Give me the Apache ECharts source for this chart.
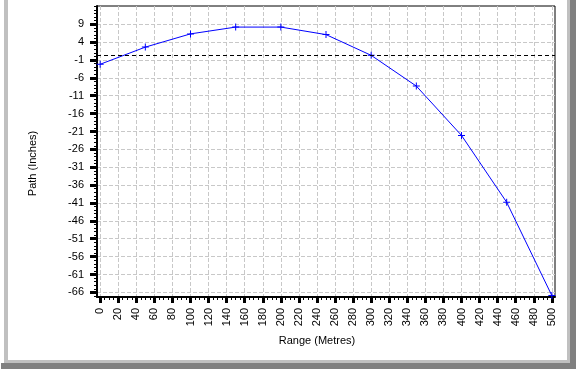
<!DOCTYPE html>
<html>
  <head>
    <meta charset="UTF-8" />
    <title>Path chart</title>
    <script src="https://cdn.jsdelivr.net/npm/echarts@6.0.0/dist/echarts.min.js"></script>
    <style>
      html, body { margin: 0; padding: 0; background: #fff; }
    </style>
  </head>
  <body>
    <div id="pathChart" style="width: 576px; height: 369px"></div>
  </body>
  <script>
    // ranges (metres) and path (inches)
    let ranges = [0, 50, 100, 150, 200, 250, 300, 350, 400, 450, 500];
    let pathValues = [-2.2, 2.6, 6.3, 8.2, 8.2, 6.1, 0.3, -8.3, -22.1, -40.8, -66.9];
    let sightLine = 0.4;

    let xTickLabels = [0, 20, 40, 60, 80, 100, 120, 140, 160, 180, 200, 220, 240, 260, 280, 300, 320, 340, 360, 380, 400, 420, 440, 460, 480, 500];
    let yTickLabels = [9, 4, -1, -6, -11, -16, -21, -26, -31, -36, -41, -46, -51, -56, -61, -66];

    let xMin = -3.5, xMax = 503.5;
    let yMin = -67.3, yMax = 14.1;

    // minor ticks every 5 m on x and every inch on y
    let xMinor = [];
    for (let v = 0; v <= 500; v += 5) xMinor.push(v);
    let yMinor = [];
    for (let v = -67; v <= 14; v += 1) yMinor.push(v);

    let font = 'Liberation Sans';
    let myChart = echarts.init(document.getElementById('pathChart'));

    myChart.setOption({
      animation: false,
      backgroundColor: '#fff',
      grid: {
        left: 97, right: 21, top: 6, bottom: 72,
        show: true, borderColor: '#000', borderWidth: 1
      },
      graphic: [ // window frame
        { type: 'rect', shape: { x: 4, y: 0, width: 4, height: 362 }, style: { fill: '#c0c0c0' } },
        { type: 'rect', shape: { x: 4, y: 360, width: 566, height: 3 }, style: { fill: '#c0c0c0' } },
        { type: 'rect', shape: { x: 567, y: 0, width: 3, height: 363 }, style: { fill: '#c0c0c0' } },
        { type: 'rect', shape: { x: 1, y: 363, width: 575, height: 6 }, style: { fill: '#808080' } },
        { type: 'rect', shape: { x: 570, y: 0, width: 6, height: 369 }, style: { fill: '#808080' } }
      ],
      xAxis: [
        {
          type: 'value', min: xMin, max: xMax,
          name: 'Range (Metres)', nameLocation: 'middle', nameGap: 38,
          nameTextStyle: { fontFamily: font, fontSize: 11, color: '#000', padding: [0, 18, 0, 0] },
          axisLine: { show: true, onZero: false, lineStyle: { color: '#000', width: 2 } },
          axisTick: { show: true, customValues: xTickLabels, length: 6, lineStyle: { color: '#000', width: 3 } },
          axisLabel: { customValues: xTickLabels, rotate: 90, margin: 11, fontFamily: font, fontSize: 11, color: '#000' },
          splitLine: { show: true, lineStyle: { color: '#c8c8c8', type: [4, 2], width: 1 } }
        },
        {
          type: 'value', min: xMin, max: xMax, position: 'bottom',
          axisLine: { show: false, onZero: false },
          axisTick: { show: true, customValues: xMinor, length: 3, lineStyle: { color: '#000', width: 1 } },
          axisLabel: { show: false },
          splitLine: { show: false }
        }
      ],
      yAxis: [
        {
          type: 'value', min: yMin, max: yMax,
          name: 'Path (Inches)', nameLocation: 'middle', nameGap: 59,
          nameTextStyle: { fontFamily: font, fontSize: 11, color: '#000', padding: [0, 24, 0, 0] },
          axisLine: { show: true, onZero: false, lineStyle: { color: '#000', width: 2 } },
          axisTick: { show: true, customValues: yTickLabels, length: 7, lineStyle: { color: '#000', width: 3 } },
          axisLabel: { customValues: yTickLabels, margin: 13, fontFamily: font, fontSize: 11, color: '#000' },
          splitLine: { show: true, lineStyle: { color: '#c8c8c8', type: [4, 2], width: 1 } }
        },
        {
          type: 'value', min: yMin, max: yMax, position: 'left',
          axisLine: { show: false, onZero: false },
          axisTick: { show: true, customValues: yMinor, length: 3, lineStyle: { color: '#000', width: 1 } },
          axisLabel: { show: false },
          splitLine: { show: false }
        }
      ],
      series: [
        {
          name: 'Path',
          type: 'line',
          xAxisIndex: 0,
          yAxisIndex: 0,
          data: ranges.map((r, i) => [r, pathValues[i]]),
          symbol: 'path://M3,0h1v3h3v1h-3v3h-1v-3h-3v-1h3z',
          symbolSize: 7,
          showSymbol: true,
          itemStyle: { color: '#0000ff' },
          lineStyle: { color: '#0000ff', width: 1 },
          markLine: {
            silent: true,
            symbol: 'none',
            label: { show: false },
            lineStyle: { color: '#000', type: [4, 3], width: 1 },
            data: [{ yAxis: sightLine }]
          }
        }
      ]
    });
  </script>
</html>
